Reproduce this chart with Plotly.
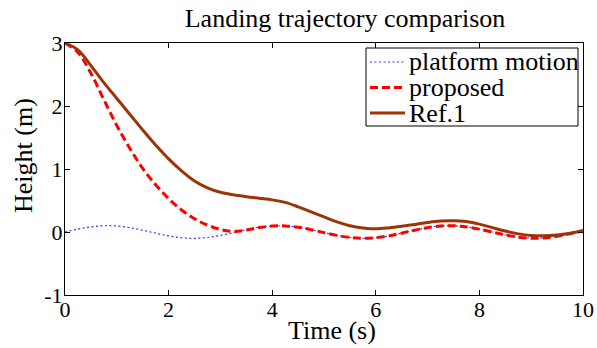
import plotly.graph_objects as go

# ---- data ----
time_s = [0.00, 0.25, 0.50, 0.75, 1.00, 1.25, 1.50, 1.75, 2.00, 2.25,
          2.50, 2.75, 3.00, 3.25, 3.50, 3.75, 4.00, 4.25, 4.50, 4.75,
          5.00, 5.25, 5.50, 5.75, 6.00, 6.25, 6.50, 6.75, 7.00, 7.25,
          7.50, 7.75, 8.00, 8.25, 8.50, 8.75, 9.00, 9.25, 9.50, 9.75, 10.00]

platform_motion = [0.000, 0.046, 0.081, 0.099, 0.095, 0.069, 0.028, -0.019, -0.062, -0.091,
                   -0.100, -0.087, -0.054, -0.010, 0.037, 0.076, 0.097, 0.097, 0.076, 0.037,
                   -0.010, -0.054, -0.087, -0.100, -0.091, -0.062, -0.019, 0.028, 0.069, 0.095,
                   0.099, 0.081, 0.046, 0.000, -0.046, -0.081, -0.099, -0.095, -0.069, -0.028, 0.019]

proposed = [3.00, 2.85, 2.52, 2.10, 1.69, 1.33, 1.01, 0.75, 0.53, 0.35,
            0.21, 0.11, 0.04, 0.01, 0.03, 0.07, 0.095, 0.097, 0.076, 0.037,
            -0.010, -0.054, -0.087, -0.100, -0.091, -0.062, -0.019, 0.028, 0.069, 0.095,
            0.099, 0.081, 0.046, 0.000, -0.046, -0.081, -0.099, -0.095, -0.069, -0.028, 0.019]

ref1 = [3.00, 2.89, 2.64, 2.37, 2.12, 1.87, 1.62, 1.38, 1.16, 0.97,
        0.81, 0.70, 0.63, 0.59, 0.56, 0.535, 0.51, 0.47, 0.40, 0.32,
        0.24, 0.16, 0.10, 0.065, 0.05, 0.065, 0.09, 0.12, 0.15, 0.173,
        0.18, 0.165, 0.125, 0.07, 0.015, -0.03, -0.055, -0.06, -0.048, -0.02, 0.02]

x_ticks = [0, 2, 4, 6, 8, 10]
x_tick_labels = ["0", "2", "4", "6", "8", "10"]
y_ticks = [-1, 0, 1, 2, 3]
y_tick_labels = ["-1", "0", "1", "2", "3"]

series_names = ["platform motion", "proposed", "Ref.1"]

# ---- styles ----
FONT = "Liberation Serif"
C_PLAT = "rgb(50,50,255)"
C_PROP = "rgb(255,0,0)"
C_REF = "rgb(158,52,6)"
styles = [
    dict(color=C_PLAT, width=1.2, dash="2px,2.5px"),
    dict(color=C_PROP, width=3, dash="8px,4px"),
    dict(color=C_REF, width=3, dash="solid"),
]
series = [platform_motion, proposed, ref1]

fig = go.Figure()
for name, ys, st in zip(series_names, series, styles):
    fig.add_trace(go.Scatter(x=time_s, y=ys, mode="lines", name=name,
                             line=dict(shape="spline", smoothing=1.0, **st),
                             showlegend=False))

W, H = 597, 348
L, R, T, B = 65, 14, 43, 53
pw, ph = W - L - R, H - T - B


def px2paper_x(px):
    return (px - L) / pw


def px2paper_y(py):
    return (H - B - py) / ph


axis_common = dict(showline=True, linecolor="black", linewidth=1, mirror="ticks",
                   ticks="inside", ticklen=5, tickcolor="black", tickwidth=1,
                   showgrid=False, zeroline=False,
                   tickfont=dict(family=FONT, size=22, color="black"))

fig.update_layout(
    width=W, height=H,
    margin=dict(l=L, r=R, t=T, b=B, autoexpand=False),
    paper_bgcolor="white", plot_bgcolor="white",
    font=dict(family=FONT, color="black"),
    xaxis=dict(range=[0, 10], tickvals=x_ticks, ticktext=x_tick_labels,
               ticklabelstandoff=-5, **axis_common),
    yaxis=dict(range=[-1, 3], tickvals=y_ticks, ticktext=y_tick_labels,
               ticklabelstandoff=-3, **axis_common),
    title=dict(text="Landing trajectory comparison", font=dict(family=FONT, size=26, color="black"),
               xref="paper", x=px2paper_x(345), xanchor="center",
               yref="container", y=1 - 18 / H, yanchor="middle"),
)

# axis titles
fig.add_annotation(text="Time (s)", xref="paper", yref="paper",
                   x=px2paper_x(332), y=px2paper_y(330), xanchor="center", yanchor="middle",
                   showarrow=False, font=dict(family=FONT, size=26, color="black"))
fig.add_annotation(text="Height (m)", xref="paper", yref="paper", textangle=-90,
                   x=px2paper_x(23), y=px2paper_y(156), xanchor="center", yanchor="middle",
                   showarrow=False, font=dict(family=FONT, size=26, color="black"))

# legend box (drawn like MATLAB's legend)
fig.add_shape(type="rect", xref="paper", yref="paper",
              x0=px2paper_x(366), x1=px2paper_x(578), y0=px2paper_y(126), y1=px2paper_y(48),
              line=dict(color="black", width=1), fillcolor="white", layer="above")
row_y = [62, 87.5, 113]
for name, st, ry in zip(series_names, styles, row_y):
    fig.add_shape(type="line", xref="paper", yref="paper",
                  x0=px2paper_x(370), x1=px2paper_x(405), y0=px2paper_y(ry), y1=px2paper_y(ry),
                  line=dict(color=st["color"], width=st["width"], dash=st["dash"]), layer="above")
    fig.add_annotation(text=name, xref="paper", yref="paper",
                       x=px2paper_x(407), y=px2paper_y(ry), xanchor="left", yanchor="middle",
                       showarrow=False, font=dict(family=FONT, size=26, color="black"))

fig.write_html("out.html")
